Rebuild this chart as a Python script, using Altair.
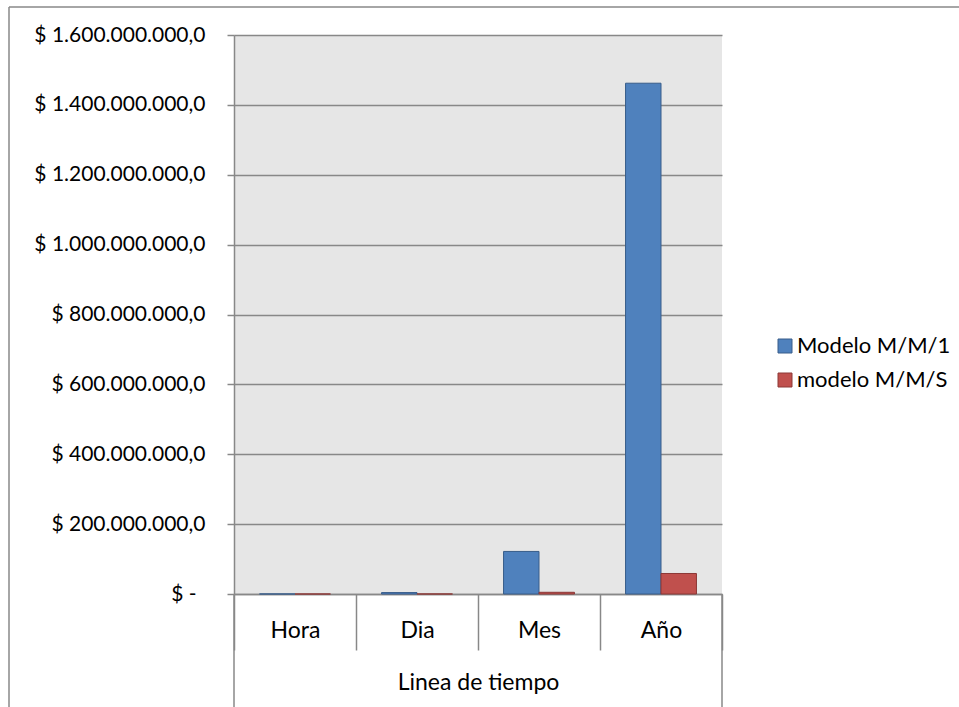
import altair as alt
import pandas as pd

# Cost per time period for the two queueing models
categorias = ["Hora", "Dia", "Mes", "Año"]
series = ["Modelo M/M/1", "modelo M/M/S"]
costo_mm1 = [169000, 4060000, 121800000, 1462000000]
costo_mms = [6700, 160000, 4900000, 58700000]
y_ticks = [0, 200000000, 400000000, 600000000, 800000000,
           1000000000, 1200000000, 1400000000, 1600000000]

colores_relleno = ["#4F81BD", "#C0504D"]
colores_borde = ["#385D8A", "#8C3836"]

rows = []
for cat, a, b in zip(categorias, costo_mm1, costo_mms):
    rows.append({"Periodo": cat, "Serie": series[0], "Costo": a})
    rows.append({"Periodo": cat, "Serie": series[1], "Costo": b})
df = pd.DataFrame(rows)

W, H = 488, 559
FONT = "Lato"
FS_NUM = 21
FS_TXT = 23
FS_LEG = 22
GRAY = "#888888"

# "$ 1.600.000.000,0" style labels (dot thousands, comma decimals)
label_expr = (
    "datum.value == 0 ? '$ -' : '$ ' + "
    "replace(replace(replace(format(datum.value, ',.1f'), regexp(',', 'g'), '_'), '.', ','), regexp('_', 'g'), '.')"
)

legend = alt.Legend(
    title=None, orient="none", legendX=540, legendY=300,
    symbolType="square", symbolSize=196, symbolStrokeWidth=1,
    labelFont=FONT, labelFontSize=FS_LEG, labelColor="black",
    rowPadding=12, padding=0, labelOffset=1,
)

bars = alt.Chart(df).mark_bar(strokeWidth=1).encode(
    x=alt.X(
        "Periodo:N", sort=categorias,
        scale=alt.Scale(paddingInner=0, paddingOuter=0),
        axis=alt.Axis(
            title="Linea de tiempo", labelAngle=0, tickBand="extent",
            tickSize=56, labelPadding=-20, labelBaseline="middle",
            titleY=88, titleBaseline="middle",
            domainColor=GRAY, tickColor=GRAY, domainWidth=1.5, tickWidth=1.5,
            labelFont=FONT, labelFontSize=FS_TXT, labelColor="black",
            titleFont=FONT, titleFontSize=FS_TXT, titleFontWeight="normal", titleColor="black",
        ),
    ),
    xOffset=alt.XOffset("Serie:N", sort=series,
                        scale=alt.Scale(paddingInner=0, paddingOuter=0.72)),
    y=alt.Y(
        "Costo:Q",
        scale=alt.Scale(domain=[0, 1600000000], nice=False),
        axis=alt.Axis(
            values=y_ticks, title=None, labelExpr=label_expr,
            tickSize=7,
            labelPadding={"condition": {"test": "datum.value == 0", "value": 31}, "value": 22},
            grid=True,
            gridColor=GRAY, gridWidth=1.5, domainColor=GRAY, domainWidth=1.5,
            tickColor=GRAY, tickWidth=1.5,
            labelFont=FONT, labelFontSize=FS_NUM, labelColor="black",
        ),
    ),
    fill=alt.Fill("Serie:N", scale=alt.Scale(domain=series, range=colores_relleno), legend=legend),
    stroke=alt.Stroke("Serie:N", scale=alt.Scale(domain=series, range=colores_borde), legend=legend),
)

# Chart frame and the outer edges of the category header
linea = alt.Chart(pd.DataFrame({"k": [0]})).mark_rule(color=GRAY, strokeWidth=1.5)
borde_izq = linea.encode(x=alt.value(-225), y=alt.value(-28), y2=alt.value(H + 150))
borde_sup = linea.encode(x=alt.value(-225), x2=alt.value(W + 240), y=alt.value(-28))
cab_izq = linea.encode(x=alt.value(0), y=alt.value(H), y2=alt.value(H + 150))
cab_der = linea.encode(x=alt.value(W), y=alt.value(H), y2=alt.value(H + 150))

chart = alt.layer(bars, borde_izq, borde_sup, cab_izq, cab_der).properties(
    width=W, height=H,
    padding={"left": 234, "top": 35, "right": 237, "bottom": 113},
    autosize=alt.AutoSizeParams(type="none"),
    background="white",
).configure_view(stroke=None, fill="#E6E6E6")

chart.save("out.html", embed_options={"renderer": "svg", "actions": False})
